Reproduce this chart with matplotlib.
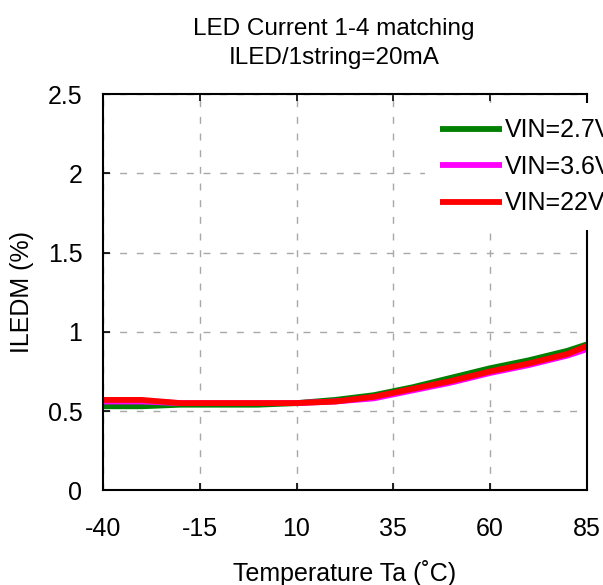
import matplotlib
matplotlib.use("Agg")
import matplotlib.pyplot as plt

plt.rcParams['font.family'] = ['Liberation Sans', 'DejaVu Sans']

temps = [-40, -30, -20, -10, 0, 10, 20, 30, 40, 50, 60, 70, 80, 85]
vin27 = [0.53, 0.53, 0.54, 0.54, 0.54, 0.55, 0.57, 0.60, 0.65, 0.71, 0.77, 0.82, 0.88, 0.92]
vin36 = [0.56, 0.56, 0.55, 0.55, 0.55, 0.55, 0.56, 0.58, 0.63, 0.68, 0.74, 0.79, 0.85, 0.89]
vin22 = [0.57, 0.57, 0.55, 0.55, 0.55, 0.55, 0.56, 0.59, 0.64, 0.69, 0.75, 0.80, 0.86, 0.91]
labels = ['VIN=2.7V', 'VIN=3.6V', 'VIN=22V']
colors = ['#008000', '#ff00ff', '#ff0000']
xticks = [-40, -15, 10, 35, 60, 85]
yticks = [0, 0.5, 1, 1.5, 2, 2.5]
ytick_labels = ['0', '0.5', '1', '1.5', '2', '2.5']

fig = plt.figure(figsize=(6.03, 5.85), dpi=100)
ax = fig.add_axes([0.171, 0.162, 0.802, 0.677])

for ys, lab, c in zip([vin27, vin36, vin22], labels, colors):
    ax.plot(temps, ys, color=c, lw=4.2, label=lab, solid_capstyle='butt')

ax.set_xlim(-40, 85)
ax.set_ylim(0, 2.5)
ax.set_xticks(xticks)
ax.set_xticklabels([str(t) for t in xticks])
ax.set_yticks(yticks)
ax.set_yticklabels(ytick_labels)
ax.grid(True, color='#a8a8a8', linestyle=(0, (5, 7)), linewidth=1.0)
ax.tick_params(direction='in', length=5, width=1.2, labelsize=18,
               top=True, right=False)
ax.tick_params(axis='x', pad=19)
ax.tick_params(axis='y', pad=15)
for s in ax.spines.values():
    s.set_linewidth(1.5)
    s.set_color('black')

ax.set_xlabel('Temperature Ta (\u02daC)', fontsize=18, labelpad=14)
ax.set_ylabel('ILEDM (%)', fontsize=18, labelpad=10)
fig.text(334 / 603, 1 - 43.5 / 585, 'LED Current 1-4 matching\nILED/1string=20mA',
         fontsize=17.5, ha='center', va='center', linespacing=1.4)

leg = ax.legend(loc='upper left', bbox_to_anchor=(0.665, 0.977), frameon=True,
                facecolor='white', edgecolor='none', framealpha=1.0, fancybox=False,
                fontsize=18, handlelength=2.5, handletextpad=0.12,
                labelspacing=0.5, borderaxespad=0, borderpad=0.6)

fig.savefig('out.png', dpi=100)
